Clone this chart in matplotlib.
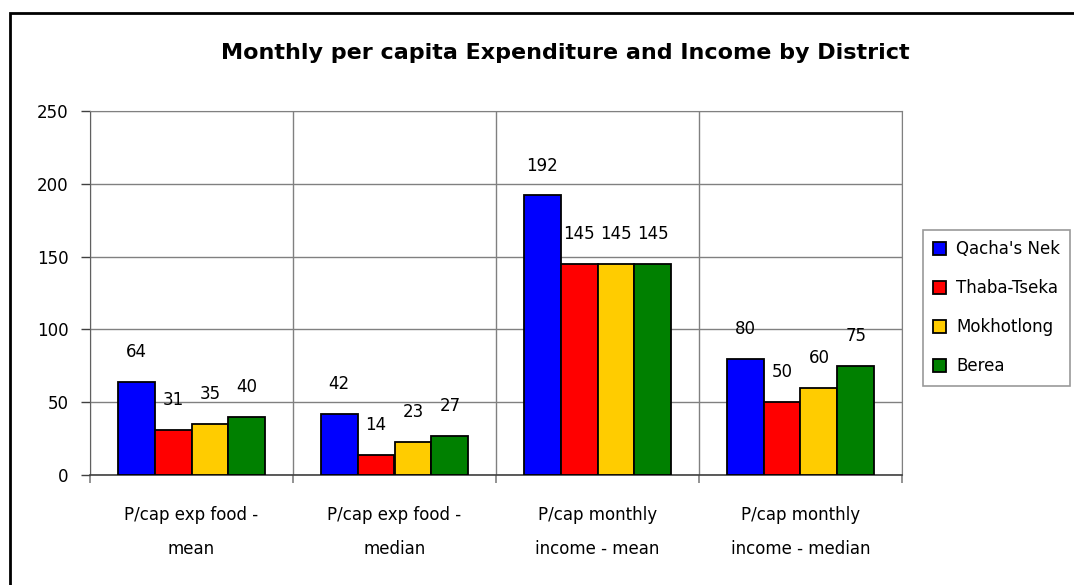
import matplotlib
matplotlib.use('Agg')
import matplotlib.pyplot as plt
import numpy as np
from matplotlib.patches import Rectangle

categories = ['P/cap exp food -\nmean', 'P/cap exp food -\nmedian',
              'P/cap monthly\nincome - mean', 'P/cap monthly\nincome - median']
districts = ["Qacha's Nek", 'Thaba-Tseka', 'Mokhotlong', 'Berea']
qachas_nek = [64, 42, 192, 80]
thaba_tseka = [31, 14, 145, 50]
mokhotlong = [35, 23, 145, 60]
berea = [40, 27, 145, 75]
colors = ['#0000FF', '#FF0000', '#FFCC00', '#008000']

plt.rcParams['font.family'] = ['DejaVu Sans']

fig = plt.figure(figsize=(10.74, 5.85), dpi=100)
ax = fig.add_axes([90/1074, 1-475/585, (902-90)/1074, (475-111)/585])

x = np.arange(len(categories))
width = 0.182
series = [qachas_nek, thaba_tseka, mokhotlong, berea]
for j, (vals, name, c) in enumerate(zip(series, districts, colors)):
    bars = ax.bar(x + (j - 1.5) * width, vals, width, color=c, edgecolor='black',
                  linewidth=1.3, label=name, zorder=3)
    for b, v in zip(bars, vals):
        ax.annotate(f'{v}', (b.get_x() + b.get_width()/2, v), xytext=(0, 21.5),
                    textcoords='offset points', ha='center', va='center', fontsize=12)

ax.set_xlim(-0.5, 3.5)
ax.set_ylim(0, 250)
ax.set_yticks(range(0, 251, 50))
ax.set_xticks(x)
ax.set_xticklabels(categories, fontsize=12, linespacing=2.2)
ax.set_xticks(np.arange(-0.5, 4, 1), minor=True)
ax.tick_params(axis='x', which='major', length=0, pad=22)
ax.tick_params(axis='x', which='minor', length=6, width=1.2, color='#808080')
ax.tick_params(axis='y', length=6.5, width=1, color='#404040', pad=9, labelsize=12)
ax.grid(axis='y', color='#808080', lw=1, zorder=0)
ax.grid(axis='x', which='minor', color='#808080', lw=1, zorder=0)
for s in ['top', 'right', 'left']:
    ax.spines[s].set_color('#808080')
ax.spines['left'].set_color('#606060')
ax.spines['bottom'].set_color('#404040')
ax.spines['bottom'].set_linewidth(1.2)

fig.text(565/1074, 1-53/585, 'Monthly per capita Expenditure and Income by District',
         ha='center', va='center', fontsize=16, fontweight='bold')

leg = fig.legend(loc='upper left', bbox_to_anchor=(923/1074, 1-230/585), fontsize=12,
                 frameon=True, fancybox=False, edgecolor='#808080', handlelength=0.8,
                 handleheight=0.8, handletextpad=0.6, labelspacing=1.27, borderpad=0.6,
                 borderaxespad=0)
leg.get_frame().set_linewidth(1.2)

fig.patches.append(Rectangle((10/1074, -0.1), 1.1, 1-13/585 + 0.1, transform=fig.transFigure,
                             fill=False, edgecolor='black', linewidth=2, clip_on=False))

fig.savefig('out.png', dpi=100)
